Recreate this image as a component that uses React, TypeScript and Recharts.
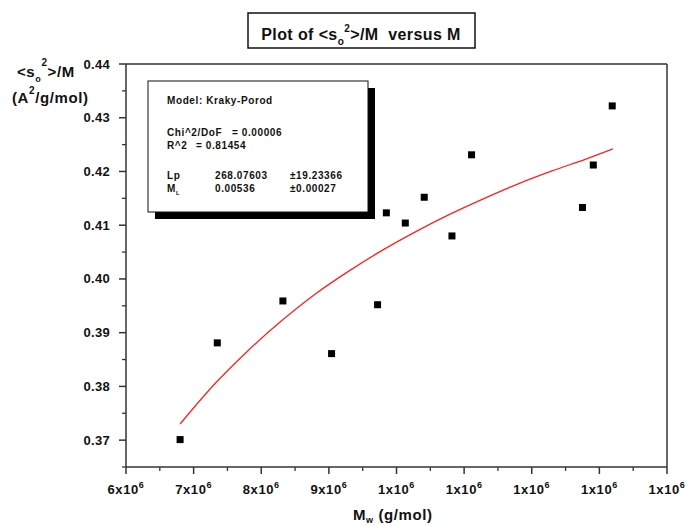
import { ComposedChart, Line, ReferenceLine, Scatter, XAxis, YAxis } from "recharts";

// Mw in units of 10^6 g/mol, <s^2>/M in A^2 mol/g
const measuredMw = [6.8, 7.35, 8.32, 9.04, 9.72, 9.85, 10.13, 10.41, 10.82, 11.11, 12.75, 12.91, 13.19];
const measuredRatio = [0.3701, 0.3881, 0.3959, 0.3861, 0.3952, 0.4123, 0.4104, 0.4152, 0.408, 0.4231, 0.4133, 0.4212, 0.4322];

// Kraky-Porod fit
const fitMw = [6.8, 7.3, 7.8, 8.3, 8.8, 9.3, 9.8, 10.3, 10.8, 11.3, 11.8, 12.3, 12.8, 13.2];
const fitRatio = [0.373, 0.3803, 0.3866, 0.3922, 0.3972, 0.4015, 0.4054, 0.4089, 0.4121, 0.415, 0.4177, 0.4201, 0.4223, 0.4242];

const xTicks = [6, 6.5, 7, 7.5, 8, 8.5, 9, 9.5, 10, 10.5, 11, 11.5, 12, 12.5, 13, 13.5, 14];
const xMajor = [6, 7, 8, 9, 10, 11, 12, 13, 14];
const xMantissa = ["6", "7", "8", "9", "1", "1", "1", "1", "1"];
const xExponent = "6";

const yTicks = [0.365, 0.37, 0.375, 0.38, 0.385, 0.39, 0.395, 0.4, 0.405, 0.41, 0.415, 0.42, 0.425, 0.43, 0.435, 0.44];
const yLabels = ["0.37", "0.38", "0.39", "0.40", "0.41", "0.42", "0.43", "0.44"];

const fitRows = [
  { name: "Lp", value: "268.07603", err: "\u00b119.23366" },
  { name: "M", sub: "L", value: "0.00536", err: "\u00b10.00027" },
];

const points = measuredMw.map((x, i) => ({ x, y: measuredRatio[i] }));
const curve = fitMw.map((x, i) => ({ x, y: fitRatio[i] }));

const FONT = "'Liberation Sans', Arial, sans-serif";
const AXIS = "#333";

function XTick({ x, y, payload }: any) {
  const idx = xMajor.indexOf(payload.value);
  if (idx < 0) {
    return <line x1={x} x2={x} y1={y} y2={y + 4} stroke={AXIS} strokeWidth={1.3} />;
  }
  return (
    <g>
      <line x1={x} x2={x} y1={y} y2={y + 7} stroke={AXIS} strokeWidth={1.5} />
      <text x={x} y={y + 27} textAnchor="middle" fontFamily={FONT} fontWeight="bold" fontSize={13} letterSpacing={0.6} fill="#111">
        <tspan>{xMantissa[idx]}x10</tspan>
        <tspan dy={-6} fontSize={9}>{xExponent}</tspan>
      </text>
    </g>
  );
}

function YTick({ x, y, payload }: any) {
  const v = payload.value * 100;
  const major = Math.abs(v - Math.round(v)) < 1e-6;
  if (!major) {
    return <line x1={x - 4} x2={x} y1={y} y2={y} stroke={AXIS} strokeWidth={1.3} />;
  }
  const label = yLabels.find((l) => Math.abs(parseFloat(l) - payload.value) < 1e-6) ?? "";
  return (
    <g>
      <line x1={x - 7} x2={x} y1={y} y2={y} stroke={AXIS} strokeWidth={1.5} />
      <text x={x - 16} y={y + 4.5} textAnchor="end" fontFamily={FONT} fontWeight="bold" fontSize={13} letterSpacing={0.3} fill="#111">
        {label}
      </text>
    </g>
  );
}

const Square = (props: any) => (
  <rect x={props.cx - 3.5} y={props.cy - 3.5} width={7} height={7} fill="#000" />
);

export default function App() {
  return (
    <div style={{ position: "absolute", left: 0, top: 0, width: 687, height: 526, background: "#fff" }}>
      <ComposedChart width={687} height={526} margin={{ top: 64, right: 20, bottom: 0, left: 0 }}>
        <XAxis
          type="number"
          dataKey="x"
          domain={[6, 14]}
          ticks={xTicks}
          interval={0}
          tickSize={0}
          tickMargin={0}
          tick={<XTick />}
          height={59}
          axisLine={{ stroke: AXIS, strokeWidth: 1.5 }}
          tickLine={false}
        />
        <YAxis
          type="number"
          dataKey="y"
          domain={[0.365, 0.44]}
          ticks={yTicks}
          interval={0}
          tickSize={0}
          tickMargin={0}
          tick={<YTick />}
          width={126}
          axisLine={{ stroke: AXIS, strokeWidth: 1.5 }}
          tickLine={false}
        />
        <ReferenceLine y={0.44} stroke={AXIS} strokeWidth={1.5} />
        <ReferenceLine x={14} stroke={AXIS} strokeWidth={1.5} />
        <Line
          data={curve}
          dataKey="y"
          type="monotone"
          stroke="#ff2020"
          strokeWidth={1.3}
          dot={false}
          isAnimationActive={false}
        />
        <Scatter data={points} dataKey="y" fill="#000" shape={Square} isAnimationActive={false} />
      </ComposedChart>

      <svg
        width={687}
        height={526}
        style={{ position: "absolute", left: 0, top: 0, pointerEvents: "none" }}
        fontFamily={FONT}
        fill="#111"
      >
        {/* title */}
        <rect x={248} y={13} width={227} height={35} fill="#fff" stroke="#111" strokeWidth={1.5} />
        <text x={361} y={40} textAnchor="middle" fontWeight="bold" fontSize={16} letterSpacing={0.4}>
          <tspan>Plot of &lt;s</tspan>
          <tspan dy={5} fontSize={10}>o</tspan>
          <tspan dy={-13} fontSize={10}>2</tspan>
          <tspan dy={8}>&gt;/M{"\u00a0\u00a0"}versus M</tspan>
        </text>

        {/* y label */}
        <text x={17} y={77} fontWeight="bold" fontSize={15} letterSpacing={0.6}>
          <tspan>&lt;s</tspan>
          <tspan dy={5} fontSize={9}>o</tspan>
          <tspan dy={-16} fontSize={10}>2</tspan>
          <tspan dy={11}>&gt;/M</tspan>
        </text>
        <text x={12} y={103} fontWeight="bold" fontSize={15} letterSpacing={0.6}>
          <tspan>(A</tspan>
          <tspan dy={-9} fontSize={10}>2</tspan>
          <tspan dy={9}>/g/mol)</tspan>
        </text>

        {/* x label */}
        <text x={353} y={520} fontWeight="bold" fontSize={15} letterSpacing={0.6}>
          <tspan>M</tspan>
          <tspan dy={3} fontSize={9}>w</tspan>
          <tspan dy={-3}> (g/mol)</tspan>
        </text>

        {/* fit results box */}
        <rect x={155} y={88} width={220} height={131} fill="#000" />
        <rect x={148} y={81} width={220} height={131} fill="#fff" stroke="#111" strokeWidth={1} />
        <g fontSize={10} fontWeight="bold" letterSpacing={0.6}>
          <text x={167} y={104}>Model: Kraky-Porod</text>
          <text x={167} y={136}>Chi^2/DoF</text>
          <text x={232} y={136}>= 0.00006</text>
          <text x={167} y={149}>R^2</text>
          <text x={196} y={149}>= 0.81454</text>
          {fitRows.map((r, i) => (
            <g key={r.name + i}>
              <text x={167} y={179 + i * 13}>
                <tspan>{r.name}</tspan>
                {r.sub ? <tspan dy={3} fontSize={6}>{r.sub}</tspan> : null}
              </text>
              <text x={215} y={179 + i * 13}>{r.value}</text>
              <text x={290} y={179 + i * 13}>{r.err}</text>
            </g>
          ))}
        </g>
      </svg>
    </div>
  );
}
